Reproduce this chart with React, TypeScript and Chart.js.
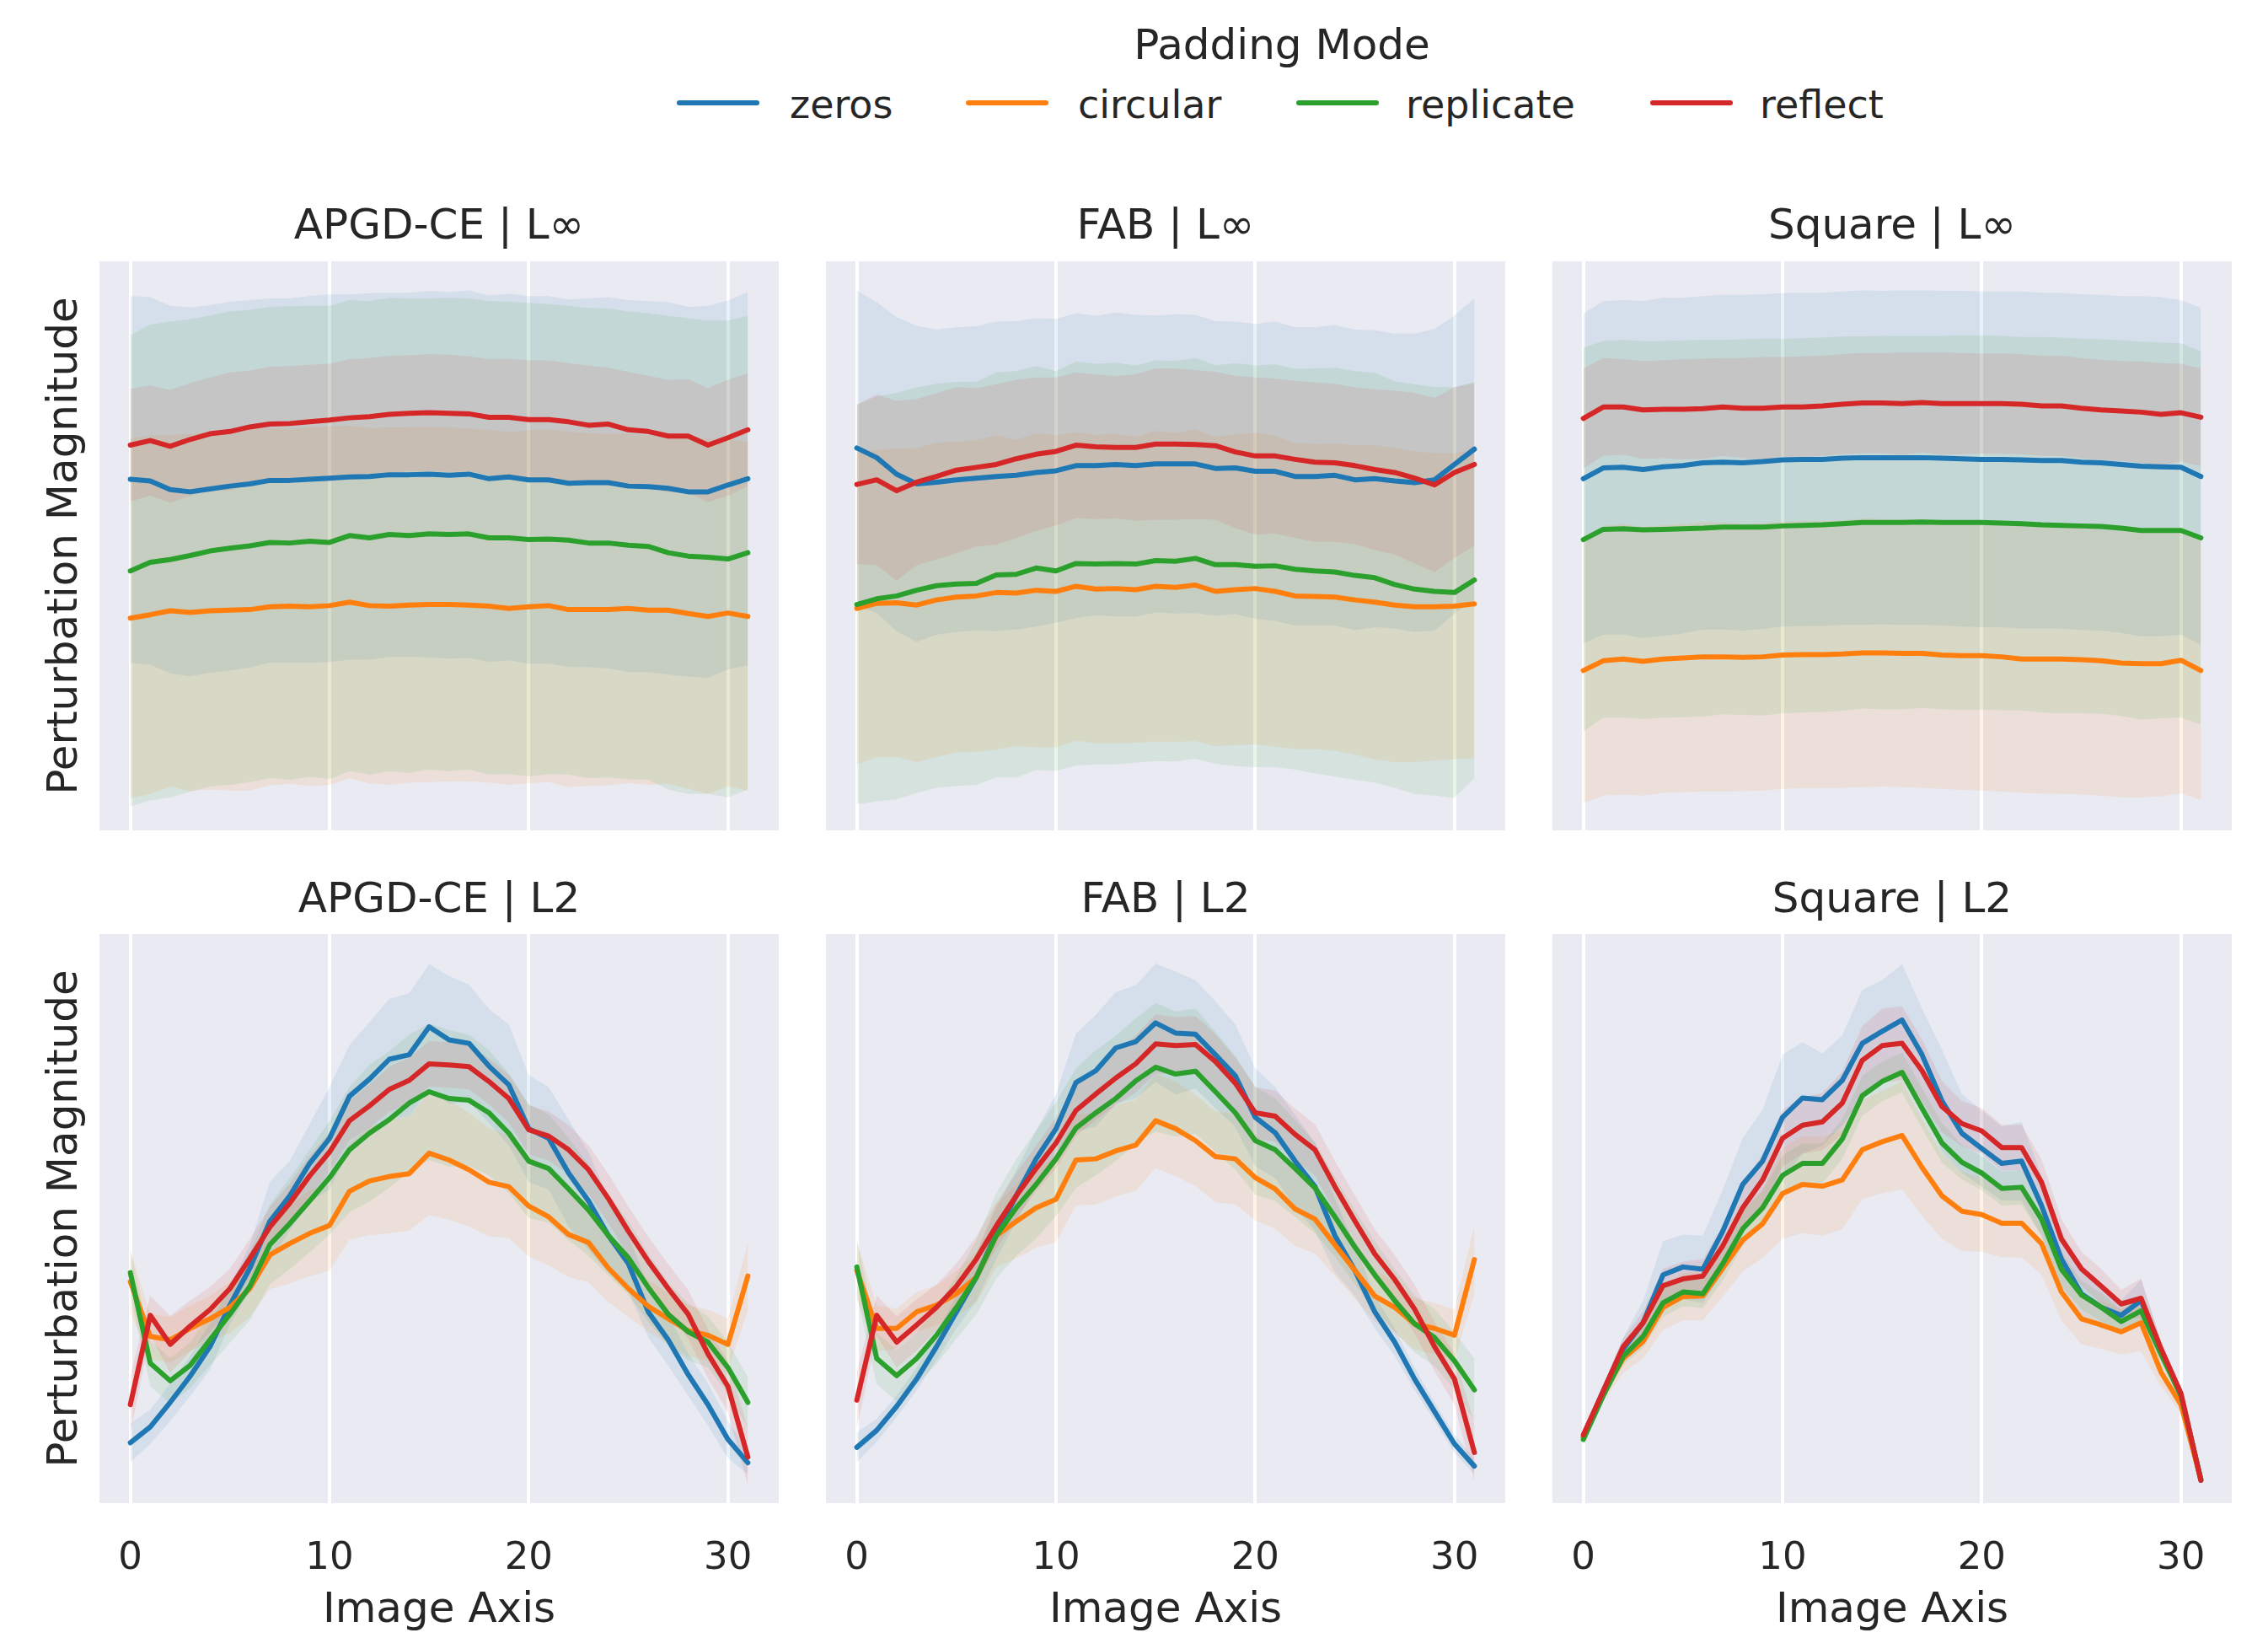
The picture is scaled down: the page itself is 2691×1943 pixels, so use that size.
import React, { useEffect, useRef } from "react";
import { Chart, registerables } from "chart.js";

Chart.register(...registerables);

const FONT = "'DejaVu Sans', 'Liberation Sans', sans-serif";
const TEXT = "#262626";

// ---------------- data ----------------
const imageAxis = [0, 1, 2, 3, 4, 5, 6, 7, 8, 9, 10, 11, 12, 13, 14, 15, 16, 17, 18, 19, 20, 21, 22, 23, 24, 25, 26, 27, 28, 29, 30, 31];
const xTickValues = [0, 10, 20, 30];
const paddingModes = ["zeros", "circular", "replicate", "reflect"];
const modeColors = ["#1f77b4", "#ff7f0e", "#2ca02c", "#d62728"];
const bandColors = ["rgba(31,119,180,0.1)", "rgba(255,127,14,0.1)", "rgba(44,160,44,0.1)", "rgba(214,39,40,0.1)"];
const panelTitles = ["APGD-CE | L∞", "FAB | L∞", "Square | L∞", "APGD-CE | L2", "FAB | L2", "Square | L2"];

// APGD-CE | L∞
const apgdLinfZeros = [61.7, 61.4, 59.9, 59.5, 60.0, 60.5, 60.9, 61.5, 61.5, 61.7, 61.9, 62.1, 62.2, 62.5, 62.5, 62.6, 62.4, 62.6, 61.8, 62.1, 61.6, 61.6, 61.0, 61.1, 61.1, 60.5, 60.4, 60.1, 59.5, 59.5, 60.7, 61.8];
const apgdLinfZerosSd = [32.2, 32.3, 32.3, 32.4, 32.3, 32.4, 32.3, 32.0, 32.0, 32.2, 32.3, 32.1, 32.2, 32.0, 32.0, 32.2, 32.2, 32.3, 32.2, 32.2, 32.3, 32.3, 32.3, 32.4, 32.6, 32.7, 32.6, 32.7, 32.5, 32.7, 32.4, 32.8];
const apgdLinfCircular = [37.3, 37.9, 38.6, 38.3, 38.6, 38.7, 38.8, 39.3, 39.4, 39.3, 39.5, 40.1, 39.5, 39.4, 39.6, 39.7, 39.7, 39.6, 39.4, 39.0, 39.3, 39.5, 38.8, 38.8, 38.8, 39.0, 38.7, 38.7, 38.1, 37.6, 38.2, 37.6];
const apgdLinfCircularSd = [31.6, 31.5, 30.9, 31.4, 31.4, 31.7, 31.8, 31.4, 31.2, 31.5, 31.5, 31.0, 31.2, 31.4, 31.2, 31.2, 31.1, 31.0, 31.0, 31.0, 31.0, 31.0, 31.2, 31.0, 30.9, 30.7, 30.7, 30.5, 30.8, 31.2, 30.5, 30.6];
const apgdLinfReplicate = [45.6, 47.1, 47.6, 48.3, 49.1, 49.6, 50.0, 50.6, 50.5, 50.8, 50.6, 51.8, 51.4, 52.0, 51.8, 52.1, 52.0, 52.1, 51.4, 51.4, 51.1, 51.2, 51.0, 50.5, 50.5, 50.1, 49.9, 48.8, 48.2, 48.0, 47.7, 48.8];
const apgdLinfReplicateSd = [41.4, 41.8, 41.8, 41.5, 41.4, 41.6, 41.5, 41.4, 41.6, 41.4, 41.6, 41.4, 41.6, 41.6, 41.7, 41.4, 41.6, 41.4, 41.6, 41.5, 41.6, 41.3, 41.2, 41.3, 41.2, 41.1, 41.0, 41.6, 41.8, 41.6, 41.9, 41.6];
const apgdLinfReflect = [67.7, 68.5, 67.5, 68.7, 69.7, 70.1, 70.9, 71.4, 71.5, 71.8, 72.1, 72.5, 72.7, 73.1, 73.3, 73.4, 73.3, 73.2, 72.6, 72.6, 72.2, 72.2, 71.8, 71.2, 71.4, 70.4, 70.1, 69.3, 69.3, 67.7, 69.0, 70.4];
const apgdLinfReflectSd = [9.9, 9.7, 9.9, 9.9, 9.9, 10.4, 9.9, 10.1, 10.1, 10.0, 9.9, 10.3, 10.3, 10.3, 10.2, 10.3, 10.3, 10.1, 10.2, 10.3, 10.4, 10.4, 10.3, 10.5, 9.9, 10.2, 9.8, 9.9, 10.0, 10.0, 10.2, 9.9];

// FAB | L∞
const fabLinfZeros = [67.2, 65.5, 62.6, 60.9, 61.2, 61.6, 61.9, 62.2, 62.4, 62.9, 63.2, 64.1, 64.1, 64.3, 64.1, 64.4, 64.4, 64.4, 63.6, 63.7, 63.1, 63.1, 62.2, 62.2, 62.4, 61.6, 61.8, 61.4, 61.1, 61.6, 64.3, 67.0];
const fabLinfZerosSd = [27.7, 27.3, 27.6, 27.8, 26.8, 26.8, 26.7, 27.2, 27.1, 27.1, 26.7, 26.8, 26.3, 26.7, 26.5, 26.1, 26.3, 26.2, 25.9, 25.7, 25.9, 26.3, 26.2, 26.2, 26.4, 26.4, 26.1, 25.9, 26.2, 26.5, 26.2, 26.5];
const fabLinfCircular = [39.0, 39.9, 40.0, 39.6, 40.5, 41.0, 41.2, 41.8, 41.7, 42.2, 42.0, 42.9, 42.4, 42.5, 42.3, 42.9, 42.7, 43.1, 42.0, 42.3, 42.5, 42.0, 41.2, 41.1, 41.0, 40.5, 40.1, 39.6, 39.3, 39.3, 39.4, 39.8];
const fabLinfCircularSd = [27.4, 27.0, 27.1, 27.6, 27.6, 27.3, 27.4, 27.6, 26.9, 27.6, 27.4, 27.1, 27.1, 27.2, 26.9, 27.3, 27.1, 27.4, 27.2, 27.3, 27.4, 27.3, 26.9, 26.8, 27.0, 27.2, 27.6, 27.6, 27.3, 27.0, 26.9, 27.1];
const fabLinfReplicate = [39.7, 40.7, 41.2, 42.2, 43.0, 43.3, 43.4, 44.9, 45.0, 46.1, 45.6, 46.9, 46.8, 46.9, 46.8, 47.4, 47.3, 47.8, 46.7, 46.7, 46.4, 46.5, 45.9, 45.6, 45.4, 44.8, 44.4, 43.2, 42.4, 42.0, 41.8, 44.0];
const fabLinfReplicateSd = [35.1, 35.6, 35.7, 35.6, 35.5, 35.5, 35.4, 35.6, 35.7, 35.5, 35.1, 35.5, 35.2, 35.3, 34.9, 35.2, 35.2, 35.2, 35.0, 35.4, 35.3, 35.4, 35.2, 35.6, 35.9, 35.9, 36.0, 35.7, 36.0, 35.9, 36.1, 34.8];
const fabLinfReflect = [60.8, 61.6, 59.7, 61.2, 62.2, 63.3, 63.8, 64.3, 65.3, 66.1, 66.6, 67.7, 67.4, 67.3, 67.3, 67.9, 67.9, 67.8, 67.6, 66.5, 65.8, 65.8, 65.2, 64.7, 64.6, 64.1, 63.4, 62.9, 61.9, 60.7, 62.9, 64.3];
const fabLinfReflectSd = [14.0, 15.0, 15.8, 14.6, 14.6, 14.6, 13.9, 14.1, 13.9, 13.5, 13.0, 12.8, 12.7, 12.5, 12.9, 13.3, 13.3, 13.1, 13.0, 13.4, 13.8, 13.6, 13.8, 14.0, 13.9, 13.8, 14.1, 14.4, 15.0, 15.3, 15.0, 14.3];

// Square | L∞
const squareLinfZeros = [61.8, 63.7, 63.8, 63.4, 63.9, 64.1, 64.6, 64.7, 64.6, 64.8, 65.1, 65.2, 65.2, 65.4, 65.5, 65.5, 65.5, 65.5, 65.4, 65.3, 65.2, 65.2, 65.1, 65.0, 65.0, 64.7, 64.6, 64.3, 64.0, 63.9, 63.8, 62.2];
const squareLinfZerosSd = [29.0, 29.3, 29.4, 29.6, 29.7, 29.5, 29.3, 29.4, 29.5, 29.4, 29.3, 29.3, 29.3, 29.3, 29.4, 29.3, 29.4, 29.4, 29.4, 29.5, 29.5, 29.5, 29.6, 29.5, 29.5, 29.5, 29.5, 29.6, 29.9, 29.8, 29.4, 29.6];
const squareLinfCircular = [28.1, 29.8, 30.1, 29.7, 30.1, 30.3, 30.5, 30.5, 30.4, 30.5, 30.8, 30.9, 30.9, 31.0, 31.2, 31.2, 31.1, 31.1, 30.8, 30.7, 30.7, 30.5, 30.1, 30.1, 30.1, 30.0, 29.8, 29.4, 29.3, 29.3, 29.9, 28.1];
const squareLinfCircularSd = [23.3, 23.7, 23.8, 23.6, 23.5, 23.6, 23.7, 23.7, 23.5, 23.5, 23.5, 23.5, 23.5, 23.5, 23.6, 23.5, 23.5, 23.6, 23.5, 23.6, 23.7, 23.7, 23.5, 23.6, 23.7, 23.7, 23.7, 23.6, 23.5, 23.3, 23.4, 22.7];
const squareLinfReplicate = [51.1, 52.9, 53.0, 52.8, 52.9, 53.0, 53.1, 53.3, 53.3, 53.3, 53.5, 53.6, 53.7, 53.9, 54.1, 54.1, 54.1, 54.2, 54.1, 54.1, 54.1, 54.0, 53.9, 53.7, 53.6, 53.5, 53.4, 53.1, 52.7, 52.7, 52.7, 51.4];
const squareLinfReplicateSd = [33.7, 33.1, 33.2, 33.2, 33.1, 33.1, 33.1, 32.9, 33.0, 33.1, 32.9, 32.9, 32.9, 32.9, 32.7, 32.8, 32.8, 32.7, 32.8, 32.9, 32.9, 32.9, 32.8, 33.0, 33.0, 32.9, 32.9, 33.0, 33.2, 33.0, 32.9, 32.8];
const squareLinfReflect = [72.4, 74.4, 74.4, 73.9, 74.0, 74.0, 74.1, 74.4, 74.2, 74.2, 74.4, 74.4, 74.6, 74.9, 75.1, 75.1, 75.0, 75.2, 75.0, 75.0, 75.0, 75.0, 74.9, 74.6, 74.6, 74.2, 73.9, 73.7, 73.5, 73.1, 73.4, 72.6];
const squareLinfReflectSd = [8.8, 8.6, 8.4, 8.6, 8.6, 8.8, 8.8, 8.6, 8.8, 9.0, 8.8, 8.9, 8.8, 8.8, 8.8, 8.8, 9.0, 8.8, 9.0, 8.9, 8.8, 8.8, 8.8, 8.8, 8.8, 8.8, 8.8, 8.8, 8.9, 9.0, 8.6, 8.6];

// APGD-CE | L2
const apgdL2Zeros = [10.6, 13.4, 17.7, 22.3, 27.5, 34.8, 41.3, 49.5, 54.0, 59.7, 64.1, 71.5, 74.5, 78.0, 78.8, 83.7, 81.4, 80.8, 76.8, 73.5, 65.8, 64.1, 58.0, 53.1, 47.0, 42.1, 33.6, 28.7, 22.6, 17.3, 11.2, 7.1];
const apgdL2ZerosSd = [3.4, 3.0, 3.3, 3.5, 4.1, 3.3, 4.1, 6.9, 6.1, 6.9, 9.0, 9.0, 10.0, 10.6, 10.8, 11.0, 11.2, 10.3, 10.0, 10.6, 9.4, 9.0, 9.4, 8.6, 6.5, 4.9, 4.5, 4.5, 3.7, 3.7, 3.3, 2.0];
const apgdL2Circular = [38.9, 29.3, 28.7, 30.7, 32.4, 34.4, 37.7, 43.6, 45.6, 47.4, 48.8, 54.8, 56.6, 57.4, 57.9, 61.5, 60.3, 58.6, 56.4, 55.6, 52.2, 50.3, 47.2, 45.8, 41.3, 37.7, 34.6, 32.4, 30.3, 29.5, 27.9, 39.9];
const apgdL2CircularSd = [5.5, 4.0, 4.0, 4.0, 4.0, 4.5, 5.0, 6.0, 7.0, 7.5, 8.0, 8.5, 9.5, 10.0, 10.0, 10.9, 10.5, 10.0, 9.5, 9.0, 8.9, 8.5, 7.5, 7.0, 6.0, 5.0, 4.5, 4.5, 4.5, 4.5, 4.5, 6.0];
const apgdL2Replicate = [40.5, 24.6, 21.5, 24.2, 28.7, 33.2, 38.1, 45.4, 49.1, 53.1, 57.2, 62.1, 65.0, 67.4, 70.3, 72.3, 71.1, 70.8, 68.6, 65.0, 60.1, 58.8, 55.2, 51.5, 47.0, 43.1, 37.9, 33.2, 30.1, 28.3, 23.8, 17.7];
const apgdL2ReplicateSd = [4.0, 4.0, 4.0, 4.0, 4.5, 5.0, 6.0, 7.0, 8.0, 9.0, 10.0, 11.0, 12.0, 12.0, 12.0, 12.0, 12.0, 11.5, 11.0, 10.5, 10.0, 9.5, 9.0, 8.0, 7.0, 6.5, 6.0, 5.5, 5.0, 4.5, 4.5, 4.5];
const apgdL2Reflect = [17.3, 33.0, 27.9, 31.1, 34.0, 37.7, 43.0, 48.5, 52.7, 57.5, 61.7, 67.2, 69.8, 72.7, 74.3, 77.2, 77.0, 76.7, 74.1, 71.1, 65.6, 64.5, 62.1, 58.6, 53.5, 47.8, 42.5, 37.7, 33.2, 26.2, 20.5, 8.1];
const apgdL2ReflectSd = [5.0, 3.5, 5.0, 4.5, 4.0, 3.5, 3.5, 3.5, 3.5, 3.5, 3.5, 3.5, 3.8, 4.0, 4.0, 4.0, 4.0, 4.0, 4.0, 4.2, 4.3, 4.3, 4.3, 4.3, 4.3, 4.3, 4.3, 4.3, 4.3, 4.3, 4.5, 5.0];

// FAB | L2
const fabL2Zeros = [9.8, 12.8, 17.0, 21.8, 27.5, 33.6, 39.7, 47.4, 54.0, 60.5, 65.8, 73.9, 76.0, 80.0, 81.1, 84.4, 82.6, 82.4, 78.8, 75.1, 67.8, 65.1, 60.1, 55.6, 47.0, 40.9, 33.6, 28.3, 21.8, 16.1, 10.4, 6.5];
const fabL2ZerosSd = [2.6, 2.0, 1.9, 2.0, 2.4, 2.9, 4.1, 4.5, 4.5, 4.9, 6.1, 8.6, 9.8, 9.8, 9.9, 10.4, 10.8, 9.5, 9.4, 9.0, 8.6, 8.0, 8.1, 7.7, 6.5, 4.5, 2.9, 2.4, 2.0, 1.6, 1.6, 1.4];
const fabL2Circular = [40.9, 30.7, 30.7, 33.6, 34.8, 36.8, 39.7, 47.0, 49.5, 51.9, 53.4, 60.3, 60.5, 61.9, 62.9, 67.2, 65.8, 63.7, 60.9, 60.5, 57.2, 55.2, 51.7, 49.9, 45.4, 40.9, 36.4, 34.4, 31.5, 30.7, 29.5, 42.8];
const fabL2CircularSd = [5.0, 4.0, 3.5, 3.5, 3.5, 4.0, 4.5, 5.5, 6.5, 7.0, 7.5, 8.0, 8.0, 8.0, 8.0, 8.3, 8.3, 8.0, 8.0, 8.0, 7.5, 7.0, 6.5, 6.0, 5.5, 5.0, 4.5, 4.5, 4.5, 4.5, 4.5, 6.0];
const fabL2Replicate = [41.5, 25.4, 22.4, 25.4, 29.5, 34.4, 39.7, 47.0, 51.9, 56.0, 60.5, 65.9, 68.6, 71.1, 74.2, 76.6, 75.4, 75.9, 72.3, 68.6, 63.7, 62.1, 58.8, 55.4, 50.3, 45.0, 40.1, 35.6, 31.5, 29.1, 25.0, 19.9];
const fabL2ReplicateSd = [5.0, 4.5, 4.5, 4.5, 5.0, 5.5, 6.5, 7.5, 8.5, 9.5, 10.0, 10.5, 11.0, 11.0, 11.0, 11.3, 11.0, 11.0, 10.5, 10.0, 9.5, 9.0, 8.5, 8.0, 7.0, 6.5, 6.0, 5.5, 5.0, 5.0, 5.0, 5.5];
const fabL2Reflect = [18.1, 33.0, 28.3, 31.3, 34.4, 38.1, 42.9, 48.7, 54.0, 58.8, 63.3, 69.0, 71.9, 74.7, 77.2, 80.7, 80.4, 80.6, 77.6, 73.8, 68.6, 68.0, 64.8, 62.1, 55.6, 49.6, 43.8, 39.3, 34.1, 27.5, 21.8, 8.9];
const fabL2ReflectSd = [5.0, 3.5, 4.5, 4.5, 4.0, 4.0, 4.0, 4.0, 4.0, 4.0, 4.5, 4.5, 4.5, 4.8, 5.0, 5.2, 5.0, 5.0, 4.8, 4.5, 4.5, 4.5, 4.5, 4.5, 4.5, 4.5, 4.3, 4.3, 4.3, 4.3, 4.5, 5.0];

// Square | L2
const squareL2Zeros = [11.6, 19.7, 27.1, 31.7, 40.1, 41.5, 41.1, 47.8, 56.0, 60.1, 67.8, 71.2, 70.9, 74.3, 80.8, 82.9, 84.9, 78.8, 70.7, 65.0, 62.3, 59.7, 60.1, 52.3, 42.9, 36.8, 34.4, 33.0, 35.6, 26.7, 18.9, 4.0];
const squareL2ZerosSd = [0.4, 1.2, 2.0, 3.9, 5.9, 5.7, 5.9, 7.3, 8.1, 9.0, 11.0, 9.8, 8.1, 7.9, 9.4, 9.0, 9.8, 8.1, 9.0, 6.9, 6.7, 6.5, 6.9, 5.3, 4.9, 4.5, 3.7, 2.6, 3.7, 1.6, 0.4, 0.2];
const squareL2Circular = [11.6, 19.3, 25.4, 28.4, 34.4, 36.3, 36.4, 41.3, 46.2, 49.1, 54.4, 56.0, 55.7, 56.8, 62.1, 63.5, 64.6, 59.0, 54.0, 51.3, 50.7, 49.2, 49.2, 45.6, 37.1, 32.4, 31.3, 30.1, 31.7, 23.0, 17.3, 4.2];
const squareL2CircularSd = [0.5, 1.5, 2.5, 3.0, 4.0, 4.2, 4.3, 5.0, 5.5, 6.0, 8.0, 8.5, 8.7, 8.7, 8.7, 9.0, 9.5, 8.5, 7.5, 7.0, 6.5, 6.0, 6.0, 5.5, 5.0, 4.5, 4.2, 4.0, 5.0, 2.5, 1.5, 0.4];
const squareL2Replicate = [11.2, 18.9, 25.8, 29.3, 35.2, 37.1, 36.8, 42.1, 48.2, 51.9, 57.6, 59.7, 59.7, 64.0, 71.6, 74.1, 75.7, 69.4, 63.3, 59.9, 58.0, 55.3, 55.5, 49.9, 41.1, 36.6, 34.4, 31.9, 33.8, 26.2, 18.9, 4.2];
const squareL2ReplicateSd = [0.5, 1.0, 1.5, 2.0, 2.5, 2.5, 2.5, 3.0, 3.0, 3.0, 3.5, 3.5, 3.5, 3.5, 3.5, 3.5, 3.5, 3.5, 3.5, 3.0, 3.0, 3.0, 3.0, 3.0, 3.0, 2.5, 2.5, 2.0, 2.5, 1.5, 1.0, 0.3];
const squareL2Reflect = [12.0, 19.7, 27.5, 31.7, 38.2, 39.4, 39.9, 45.2, 51.9, 56.8, 64.1, 66.4, 67.0, 70.3, 77.8, 80.4, 80.8, 76.0, 69.7, 66.7, 65.4, 62.5, 62.5, 56.4, 46.4, 41.2, 38.1, 35.0, 36.0, 27.1, 19.3, 4.0];
const squareL2ReflectSd = [0.5, 1.0, 1.5, 2.0, 3.0, 3.0, 3.0, 3.5, 4.0, 4.5, 5.0, 5.0, 5.0, 5.5, 6.0, 6.5, 6.5, 5.5, 4.5, 4.0, 4.0, 4.0, 4.0, 4.0, 3.5, 3.0, 3.0, 2.5, 3.5, 1.5, 1.0, 0.3];

const panelMeans = [
  [apgdLinfZeros, apgdLinfCircular, apgdLinfReplicate, apgdLinfReflect],
  [fabLinfZeros, fabLinfCircular, fabLinfReplicate, fabLinfReflect],
  [squareLinfZeros, squareLinfCircular, squareLinfReplicate, squareLinfReflect],
  [apgdL2Zeros, apgdL2Circular, apgdL2Replicate, apgdL2Reflect],
  [fabL2Zeros, fabL2Circular, fabL2Replicate, fabL2Reflect],
  [squareL2Zeros, squareL2Circular, squareL2Replicate, squareL2Reflect],
];
const panelSds = [
  [apgdLinfZerosSd, apgdLinfCircularSd, apgdLinfReplicateSd, apgdLinfReflectSd],
  [fabLinfZerosSd, fabLinfCircularSd, fabLinfReplicateSd, fabLinfReflectSd],
  [squareLinfZerosSd, squareLinfCircularSd, squareLinfReplicateSd, squareLinfReflectSd],
  [apgdL2ZerosSd, apgdL2CircularSd, apgdL2ReplicateSd, apgdL2ReflectSd],
  [fabL2ZerosSd, fabL2CircularSd, fabL2ReplicateSd, fabL2ReflectSd],
  [squareL2ZerosSd, squareL2CircularSd, squareL2ReplicateSd, squareL2ReflectSd],
];

// ---------------- layout ----------------
const COL_LEFT = [118, 980, 1842];
const ROW_TOP = [310, 1108];
const PANEL_W = 806;
const PANEL_H = 675;
const AXIS_W = 110;
const PAD_R = 20;
const TITLE_H = 75;
const XAXIS_H = 160;

const panelBackground = {
  id: "panelBackground",
  beforeDraw(chart: any) {
    const { ctx, chartArea } = chart;
    ctx.save();
    ctx.fillStyle = "#EAEAF2";
    ctx.fillRect(chartArea.left, chartArea.top, chartArea.right - chartArea.left, chartArea.bottom - chartArea.top);
    ctx.restore();
  },
};

function Panel({ index }: { index: number }) {
  const ref = useRef<HTMLCanvasElement>(null);
  const row = Math.floor(index / 3);
  const col = index % 3;
  const left = COL_LEFT[col] - AXIS_W;
  const top = ROW_TOP[row] - TITLE_H;
  const width = AXIS_W + PANEL_W + PAD_R;
  const height = TITLE_H + PANEL_H + (row === 1 ? XAXIS_H : 0);

  useEffect(() => {
    const means = panelMeans[index];
    const sds = panelSds[index];
    const datasets: any[] = [];
    for (let s = 0; s < 4; s++) {
      datasets.push({
        label: paddingModes[s] + " upper",
        data: imageAxis.map((x, i) => ({ x, y: means[s][i] + sds[s][i] })),
        borderWidth: 0,
        pointRadius: 0,
        backgroundColor: bandColors[s],
        fill: "+1",
        tension: 0,
        order: 8 - s,
      });
      datasets.push({
        label: paddingModes[s] + " lower",
        data: imageAxis.map((x, i) => ({ x, y: means[s][i] - sds[s][i] })),
        borderWidth: 0,
        pointRadius: 0,
        fill: false,
        tension: 0,
        order: 8 - s,
      });
    }
    for (let s = 0; s < 4; s++) {
      datasets.push({
        label: paddingModes[s],
        data: imageAxis.map((x, i) => ({ x, y: means[s][i] })),
        borderColor: modeColors[s],
        borderWidth: 6,
        pointRadius: 0,
        fill: false,
        tension: 0,
        borderCapStyle: "round",
        borderJoinStyle: "round",
        order: 4 - s,
      });
    }

    const chart = new Chart(ref.current as HTMLCanvasElement, {
      type: "line",
      data: { datasets },
      plugins: [panelBackground],
      options: {
        responsive: false,
        animation: false,
        devicePixelRatio: 1,
        layout: { padding: { left: 0, right: PAD_R, top: 0, bottom: 0 } },
        plugins: {
          legend: { display: false },
          tooltip: { enabled: false },
          title: {
            display: true,
            text: panelTitles[index],
            color: TEXT,
            font: { family: FONT, size: 50, weight: "normal" },
            padding: { top: row === 0 ? 5 : 6, bottom: row === 0 ? 10 : 9 },
            fullSize: false,
          },
        },
        scales: {
          x: {
            type: "linear",
            min: -1.55,
            max: 32.55,
            afterBuildTicks: (scale: any) => {
              scale.ticks = xTickValues.map((v) => ({ value: v }));
            },
            afterFit: (scale: any) => {
              scale.height = row === 1 ? XAXIS_H : 0;
            },
            grid: { color: "#ffffff", lineWidth: 4, drawTicks: false },
            border: { display: false },
            ticks: {
              display: row === 1,
              color: TEXT,
              font: { family: FONT, size: 45 },
              padding: 39,
              maxRotation: 0,
            },
            title: {
              display: row === 1,
              text: "Image Axis",
              color: TEXT,
              font: { family: FONT, size: 50 },
              padding: { top: 0, bottom: 2 },
            },
          },
          y: {
            type: "linear",
            min: 0,
            max: 100,
            afterFit: (scale: any) => {
              scale.width = AXIS_W;
            },
            grid: { display: false, drawTicks: false },
            border: { display: false },
            ticks: { display: false },
            title: {
              display: col === 0,
              text: "Perturbation Magnitude",
              color: TEXT,
              font: { family: FONT, size: 50 },
              padding: { top: 40, bottom: 0 },
            },
          },
        },
      } as any,
    });
    return () => chart.destroy();
  }, [index]);

  return (
    <canvas
      ref={ref}
      width={width}
      height={height}
      style={{ position: "absolute", left, top, width, height }}
    />
  );
}

const legendLineLeft = [803, 1146, 1538, 1958];
const legendTextLeft = [937, 1279, 1668, 2088];

export default function App() {
  const textStyle: React.CSSProperties = {
    position: "absolute",
    fontFamily: FONT,
    lineHeight: "60px",
    color: TEXT,
    whiteSpace: "nowrap",
  };
  return (
    <div
      style={{
        position: "absolute",
        left: 0,
        top: 0,
        width: 2691,
        height: 1943,
        background: "#ffffff",
        overflow: "hidden",
      }}
    >
      <div style={{ ...textStyle, fontSize: 50, left: 1221, top: 23, width: 600, textAlign: "center" }}>Padding Mode</div>
      {paddingModes.map((m, s) => (
        <React.Fragment key={m}>
          <div
            style={{
              position: "absolute",
              left: legendLineLeft[s],
              top: 119,
              width: 98,
              height: 6,
              borderRadius: 3,
              background: modeColors[s],
            }}
          />
          <div style={{ ...textStyle, fontSize: 46, left: legendTextLeft[s], top: 94 }}>{m}</div>
        </React.Fragment>
      ))}
      {[0, 1, 2, 3, 4, 5].map((i) => (
        <Panel key={i} index={i} />
      ))}
    </div>
  );
}
